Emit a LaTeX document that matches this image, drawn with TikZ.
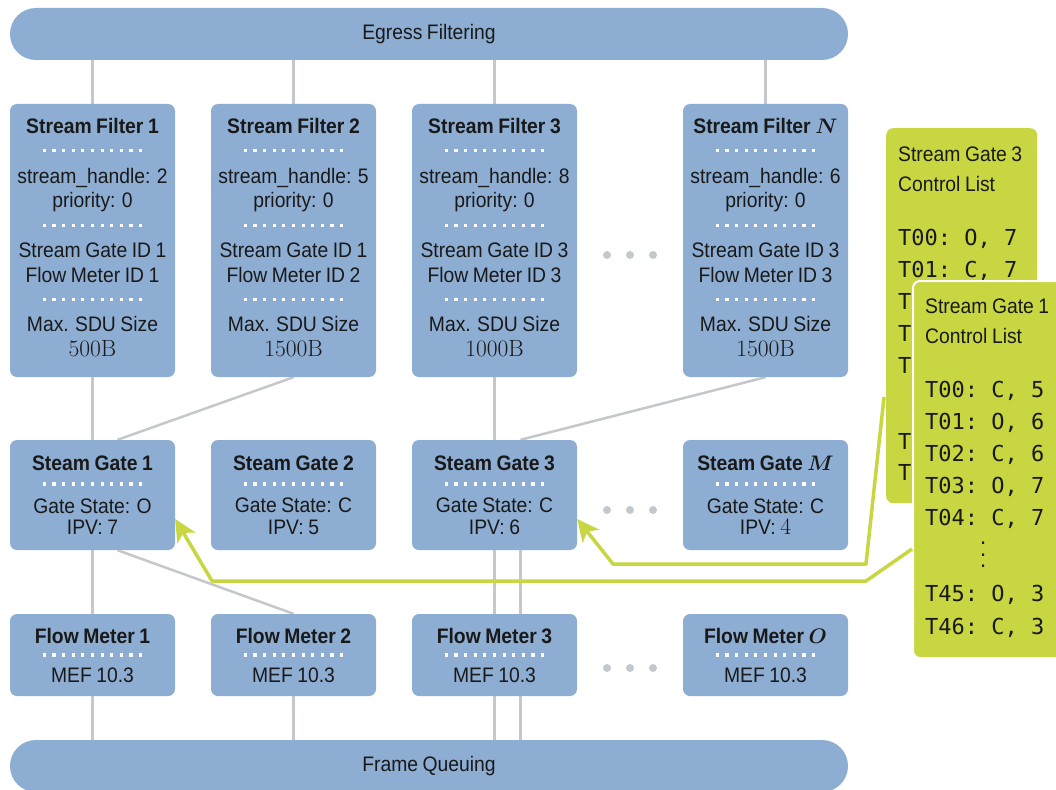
\documentclass[tikz,border=0pt]{standalone}
\usepackage{fix-cm}
\usepackage[no-math]{fontspec}
\setmainfont{Liberation Sans}[FakeStretch=0.92, WordSpace=0.85]
\setmonofont{DejaVu Sans Mono}
\usetikzlibrary{arrows.meta,backgrounds}
\definecolor{boxblue}{HTML}{8DAED2}
\definecolor{linegray}{HTML}{C4C8CC}
\definecolor{ctlgreen}{HTML}{C8D642}
\definecolor{dotgray}{HTML}{C3C8CD}
\newcommand{\dotsep}{{\color{white}\hbox to 106pt{\xleaders\hbox to 9.6pt{\hss\raisebox{6pt}{\rule{3.2pt}{3.2pt}}\hss}\hfill}}}
\newcommand{\bignum}[1]{{\fontsize{23.5}{24.8}\selectfont$#1$}}
\newcommand{\lift}{\rule[-6pt]{0pt}{6pt}}
\newcommand{\tallvdots}{\vbox{\baselineskip=11.5pt\lineskiplimit=-100pt\hbox{\rmfamily\fontsize{24}{11.5}\selectfont.}\hbox{\rmfamily\fontsize{24}{11.5}\selectfont.}\hbox{\rmfamily\fontsize{24}{11.5}\selectfont.}}}
\tikzset{
  box/.style={fill=boxblue, rounded corners=7pt, inner sep=0pt, align=center, text=black!90},
  filterbox/.style={box, minimum width=165pt, minimum height=273pt, font=\fontsize{21}{24.8}\selectfont},
  gatebox/.style={box, minimum width=165pt, minimum height=110pt, font=\fontsize{21}{21.4}\selectfont},
  meterbox/.style={box, minimum width=165pt, minimum height=82pt, font=\fontsize{21}{19.5}\selectfont},
  bar/.style={fill=boxblue, rounded corners=25.9pt, minimum width=838pt, minimum height=52pt, inner sep=0pt, font=\fontsize{21}{24}\selectfont, text=black!90},
  conn/.style={draw=linegray, line width=2.5pt},
  ctl/.style={draw=ctlgreen, line width=3.5pt, line join=round, -{Stealth[length=22pt, width=21pt, inset=6pt]}},
  listbox/.style={fill=ctlgreen, rounded corners=7pt, inner sep=0pt, anchor=north west},
  listtext/.style={anchor=north west, inner sep=0pt, text=black!90},
  moredots/.style={fill=dotgray},
}
\begin{document}
\begin{tikzpicture}[x=1pt, y=-1pt]
\useasboundingbox (0,0) rectangle (1056,789);
\clip (0,0) rectangle (1056,789);

% bars
\node[bar] (egress) at (429,34) {Egress Filtering};
\node[bar] (queue) at (429,766) {Frame Queuing};

% stream filters
\node[filterbox] (f1) at (92.5,240.5) {\textbf{Stream Filter 1}\\\dotsep\\stream\_handle: 2\\priority: 0\\\dotsep\\Stream Gate ID 1\\Flow Meter ID 1\\\dotsep\\Max. SDU Size\\\bignum{500\mathrm{B}}\lift};
\node[filterbox] (f2) at (293.5,240.5) {\textbf{Stream Filter 2}\\\dotsep\\stream\_handle: 5\\priority: 0\\\dotsep\\Stream Gate ID 1\\Flow Meter ID 2\\\dotsep\\Max. SDU Size\\\bignum{1500\mathrm{B}}\lift};
\node[filterbox] (f3) at (494.5,240.5) {\textbf{Stream Filter 3}\\\dotsep\\stream\_handle: 8\\priority: 0\\\dotsep\\Stream Gate ID 3\\Flow Meter ID 3\\\dotsep\\Max. SDU Size\\\bignum{1000\mathrm{B}}\lift};
\node[filterbox] (fN) at (765.5,240.5) {\textbf{Stream Filter {\boldmath$N$}}\\\dotsep\\stream\_handle: 6\\priority: 0\\\dotsep\\Stream Gate ID 3\\Flow Meter ID 3\\\dotsep\\Max. SDU Size\\\bignum{1500\mathrm{B}}\lift};

% gates
\node[gatebox] (g1) at (92.5,495) {\textbf{Steam Gate 1}\\\dotsep\\Gate State: O\\IPV: 7};
\node[gatebox] (g2) at (293.5,495) {\textbf{Steam Gate 2}\\\dotsep\\Gate State: C\\IPV: 5};
\node[gatebox] (g3) at (494.5,495) {\textbf{Steam Gate 3}\\\dotsep\\Gate State: C\\IPV: 6};
\node[gatebox] (gM) at (765.5,495) {\textbf{Steam Gate {\boldmath$M$}}\\\dotsep\\Gate State: C\\IPV: \bignum{4}};

% flow meters
\node[meterbox] (fm1) at (92.5,655) {\textbf{Flow Meter 1}\\\dotsep\\MEF 10.3};
\node[meterbox] (fm2) at (293.5,655) {\textbf{Flow Meter 2}\\\dotsep\\MEF 10.3};
\node[meterbox] (fm3) at (494.5,655) {\textbf{Flow Meter 3}\\\dotsep\\MEF 10.3};
\node[meterbox] (fmO) at (765.5,655) {\textbf{Flow Meter {\boldmath$O$}}\\\dotsep\\MEF 10.3};

% ellipsis dots
\foreach \y in {255,510,668} {
  \foreach \x in {607,630,653} { \fill[moredots] (\x,\y) circle (4pt); }
}

% connectors behind boxes
\begin{scope}[on background layer]
\foreach \f in {f1,f2,f3,fN} { \draw[conn] (egress.south -| \f.north) -- (\f.north); }
\draw[conn] (f1.south) -- (g1.north);
\draw[conn] (f2.south) -- ([xshift=25pt]g1.north);
\draw[conn] (f3.south) -- (g3.north);
\draw[conn] (fN.south) -- ([xshift=26pt]g3.north);
\draw[conn] (g1.south) -- (fm1.north);
\draw[conn] ([xshift=25pt]g1.south) -- (fm2.north);
\draw[conn] (g3.south) -- (fm3.north);
\draw[conn] ([xshift=26pt]g3.south) -- ([xshift=26pt]fm3.north);
\foreach \m in {fm1,fm2,fm3} { \draw[conn] (\m.south) -- (queue.north -| \m.south); }
\draw[conn] ([xshift=26pt]fm3.south) -- ++(0,44);
\end{scope}

% control lists
\node[listbox, minimum width=151pt, minimum height=375pt] (cl3) at (886,128) {};
\node[listtext] (cl3txt) at (898,147) {\parbox[t]{136pt}{\fontsize{21}{30}\selectfont Stream Gate 3\par Control List\par
\vspace{21.5pt}\ttfamily\fontsize{22}{32}\selectfont T00:\ O,\ 7\par T01:\ C,\ 7\par T02:\ O,\ 6\par T03:\ C,\ 6\par T04:\ O,\ 5\par
\fontsize{22}{40}\selectfont\hspace*{55pt}\tallvdots\par\fontsize{22}{36}\selectfont T45:\ O,\ 7\par \fontsize{22}{31}\selectfont T46:\ C,\ 7\par}};

\node[listbox, draw=white, line width=2pt, minimum width=170pt, minimum height=377pt] (cl1) at (912,280) {};
\node[listtext] (cl1txt) at (925,299) {\parbox[t]{136pt}{\fontsize{21}{30}\selectfont Stream Gate 1\par Control List\par
\vspace{22pt}\ttfamily\fontsize{22}{32}\selectfont T00:\ C,\ 5\par T01:\ O,\ 6\par T02:\ C,\ 6\par T03:\ O,\ 7\par T04:\ C,\ 7\par
\fontsize{22}{42}\selectfont\hspace*{55pt}\tallvdots\par\fontsize{22}{34}\selectfont T45:\ O,\ 3\par \fontsize{22}{33}\selectfont T46:\ C,\ 3\par}};

% control arrows
\coordinate (s3) at (884,397);
\coordinate (s1) at (912,549);
\draw[ctl] (s3) -- (866,564) -- (613,564) -- ([yshift=-24pt]g3.east);
\draw[ctl] (s1) -- (866,581) -- (212,581) -- ([yshift=-24pt]g1.east);
\end{tikzpicture}
\end{document}
